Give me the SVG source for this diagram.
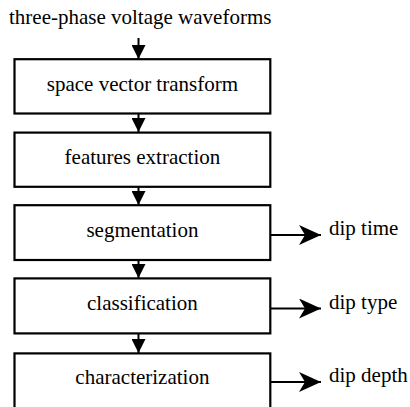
<svg xmlns="http://www.w3.org/2000/svg" width="410" height="407" viewBox="0 0 410 407">
<style>
.box{fill:#fff;stroke:#000;stroke-width:2.2}
text{font-family:"Liberation Serif","Times New Roman",serif;font-size:21px;fill:#000}
.c{text-anchor:middle}
.ln{stroke:#000;stroke-width:2;fill:none}
</style>
<defs>
<marker id="ah" viewBox="0 0 14 14" markerWidth="14" markerHeight="14" refX="14" refY="7" orient="auto" markerUnits="userSpaceOnUse">
<path d="M0,0 L14,7 L0,14 Z" fill="#000"/>
</marker>
<marker id="ah2" viewBox="0 0 22 20" markerWidth="22" markerHeight="20" refX="22" refY="10" orient="auto" markerUnits="userSpaceOnUse">
<path d="M0,0 L22,10 L0,20 L6,10 Z" fill="#000"/>
</marker>
</defs>
<text x="9" y="23.5">three-phase voltage waveforms</text>
<g id="connectors">
<line class="ln" x1="138.5" y1="38" x2="138.5" y2="59" marker-end="url(#ah)"/>
<line class="ln" x1="138.5" y1="114" x2="138.5" y2="132" marker-end="url(#ah)"/>
<line class="ln" x1="138.5" y1="187" x2="138.5" y2="205" marker-end="url(#ah)"/>
<line class="ln" x1="138.5" y1="260" x2="138.5" y2="278" marker-end="url(#ah)"/>
<line class="ln" x1="138.5" y1="334" x2="138.5" y2="353" marker-end="url(#ah)"/>
<line class="ln" x1="271" y1="235" x2="321" y2="235" marker-end="url(#ah2)"/>
<line class="ln" x1="271" y1="308.5" x2="321" y2="308.5" marker-end="url(#ah2)"/>
<line class="ln" x1="271" y1="382" x2="321" y2="382" marker-end="url(#ah2)"/>
</g>
<g id="n1"><rect class="box" x="14.5" y="59.2" width="255.8" height="54.3"/><text class="c" x="142.4" y="91">space vector transform</text></g>
<g id="n2"><rect class="box" x="14.5" y="132.6" width="255.8" height="54.2"/><text class="c" x="142.4" y="164">features extraction</text></g>
<g id="n3"><rect class="box" x="14.5" y="205.2" width="255.8" height="54.8"/><text class="c" x="142.4" y="236.5">segmentation</text></g>
<g id="n4"><rect class="box" x="14.5" y="278.4" width="255.8" height="55"/><text class="c" x="142.4" y="310">classification</text></g>
<g id="n5"><rect class="box" x="14.5" y="353.4" width="255.8" height="56"/><text class="c" x="142.4" y="383.5">characterization</text></g>
<text x="329" y="235">dip time</text>
<text x="329" y="309">dip type</text>
<text x="329" y="382">dip depth</text>
</svg>
